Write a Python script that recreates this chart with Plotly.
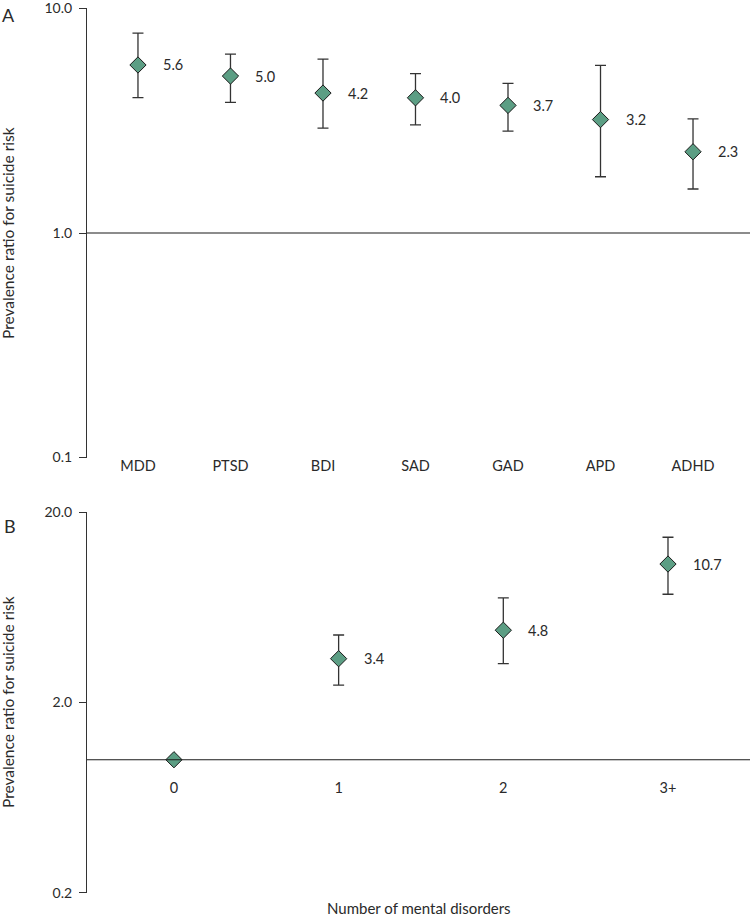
import math
import plotly.graph_objects as go

# Panel A data
disorders = ["MDD", "PTSD", "BDI", "SAD", "GAD", "APD", "ADHD"]
pr_a = [5.6, 5.0, 4.2, 4.0, 3.7, 3.2, 2.3]
hi_a = [7.77, 6.26, 5.95, 5.13, 4.64, 5.58, 3.22]
lo_a = [4.01, 3.82, 2.93, 3.03, 2.84, 1.78, 1.57]
labels_a = ["5.6", "5.0", "4.2", "4.0", "3.7", "3.2", "2.3"]

# Panel B data
n_disorders = ["0", "1", "2", "3+"]
pr_b = [1.0, 3.4, 4.8, 10.7]
hi_b = [1.0, 4.53, 7.10, 14.8]
lo_b = [1.0, 2.47, 3.20, 7.42]
labels_b = ["", "3.4", "4.8", "10.7"]

yticks_a = [0.1, 1.0, 10.0]
yticks_a_text = ["0.1", "1.0", "10.0"]
yticks_b = [0.2, 2.0, 20.0]
yticks_b_text = ["0.2", "2.0", "20.0"]

FONT = "Lato"
TXT = "#2a2a2a"
GREEN = "#5c9e84"

W, H = 750, 917
ML, MR, MT, MB = 87, 0, 8, 24
PH = H - MT - MB

def py(pix):
    return (H - MB - pix) / PH

def px(pix):
    return (pix - ML) / (W - ML - MR)

fig = go.Figure()

def add_panel(cats, vals, hi, lo, xa, ya):
    plus = [h - v for h, v in zip(hi, vals)]
    minus = [v - l for v, l in zip(vals, lo)]
    fig.add_trace(go.Scatter(
        x=cats, y=vals, mode="markers", xaxis=xa, yaxis=ya,
        marker=dict(symbol="diamond", size=12.5, color=GREEN,
                    line=dict(color="#1a1a1a", width=1)),
        error_y=dict(type="data", symmetric=False, array=plus, arrayminus=minus,
                     color="#333333", thickness=1.3, width=5.5),
        showlegend=False, hoverinfo="skip"))

add_panel(disorders, pr_a, hi_a, lo_a, "x", "y")
add_panel(n_disorders, pr_b, hi_b, lo_b, "x2", "y2")

annotations = []
for c, v, t in zip(disorders, pr_a, labels_a):
    annotations.append(dict(x=c, y=math.log10(v), xref="x", yref="y", text=t,
                            showarrow=False, xanchor="left", xshift=23,
                            font=dict(family=FONT, size=14.5, color=TXT)))
for c, v, t in zip(n_disorders, pr_b, labels_b):
    if t:
        annotations.append(dict(x=c, y=math.log10(v), xref="x2", yref="y2", text=t,
                                showarrow=False, xanchor="left", xshift=23,
                                font=dict(family=FONT, size=14.5, color=TXT)))

ytitle = "Prevalence ratio for suicide risk"
annotations += [
    dict(x=px(8), y=py(233), xref="paper", yref="paper", text=ytitle, textangle=-90,
         showarrow=False, xanchor="center", yanchor="middle",
         font=dict(family=FONT, size=15.5, color=TXT)),
    dict(x=px(8), y=py(702), xref="paper", yref="paper", text=ytitle, textangle=-90,
         showarrow=False, xanchor="center", yanchor="middle",
         font=dict(family=FONT, size=15.5, color=TXT)),
    dict(x=px(0), y=py(15), xref="paper", yref="paper", text="A",
         showarrow=False, xanchor="left", yanchor="middle",
         font=dict(family=FONT, size=18, color=TXT)),
    dict(x=px(2), y=py(526), xref="paper", yref="paper", text="B",
         showarrow=False, xanchor="left", yanchor="middle",
         font=dict(family=FONT, size=18, color=TXT)),
    dict(x=0.5, y=py(908), xref="paper", yref="paper", text="Number of mental disorders",
         showarrow=False, xanchor="center", yanchor="middle",
         font=dict(family=FONT, size=15, color=TXT)),
]

shapes = [
    dict(type="line", xref="x domain", yref="y", x0=0, x1=1, y0=1, y1=1,
         line=dict(color="#1a1a1a", width=1.2)),
    dict(type="line", xref="x2 domain", yref="y2", x0=0, x1=1, y0=1, y1=1,
         line=dict(color="#1a1a1a", width=1.2)),
]

yax_common = dict(type="log", showgrid=False, zeroline=False, showline=True,
                  linecolor="#333333", linewidth=1.2, ticks="outside", ticklen=7,
                  tickcolor="#333333", tickwidth=1.2, ticklabeloverflow="allow",
                  ticklabelstandoff=4,
                  tickfont=dict(family=FONT, size=14, color=TXT))
xax_common = dict(type="category", showgrid=False, zeroline=False, showline=False,
                  tickfont=dict(family=FONT, size=14.5, color=TXT))

fig.update_layout(
    width=W, height=H,
    margin=dict(l=ML, r=MR, t=MT, b=MB),
    paper_bgcolor="white", plot_bgcolor="white",
    xaxis=dict(**xax_common, domain=[0, 1], anchor="y", range=[-0.551, 6.616],
               ticks="", ticklabelstandoff=-3),
    yaxis=dict(**yax_common, domain=[py(458), 1], anchor="x", range=[-1.002, 1.002],
               tickvals=yticks_a, ticktext=yticks_a_text),
    xaxis2=dict(**xax_common, domain=[0, 1], anchor="free", position=py(761),
                range=[-0.528, 3.498], ticks="outside", tickcolor="rgba(0,0,0,0)",
                ticklen=14),
    yaxis2=dict(**yax_common, domain=[0, py(512)], anchor="x2",
                range=[math.log10(0.2) - 0.002, math.log10(20) + 0.002],
                tickvals=yticks_b, ticktext=yticks_b_text),
    annotations=annotations,
    shapes=shapes,
)

fig.write_html("out.html", config={"displayModeBar": False},
               post_script="document.body.style.margin='0';document.body.style.overflow='hidden';")
